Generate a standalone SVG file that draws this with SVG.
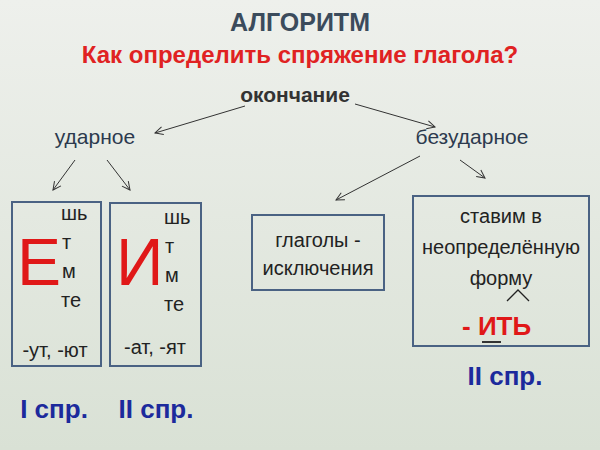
<svg xmlns="http://www.w3.org/2000/svg" width="600" height="450" viewBox="0 0 600 450">
<defs>
<linearGradient id="bg" x1="0" y1="0" x2="0" y2="1"><stop offset="0" stop-color="#eef0ec"/><stop offset="1" stop-color="#d9e1d5"/></linearGradient>
<marker id="ah" markerWidth="10" markerHeight="10" refX="9" refY="5" orient="auto" markerUnits="userSpaceOnUse"><path d="M1,1 L9,5 L1,9" fill="none" stroke="#333" stroke-width="1"/></marker>
<style>
text{font-family:"Liberation Sans",Arial,sans-serif}
.box{fill:none;stroke:#4a6283;stroke-width:2}
.n{font-size:20px;fill:#222}
.h{font-size:21px;fill:#2c3a4e}
.s{font-size:26px;font-weight:bold;fill:#1c2a9c}
.big{font-size:66px;fill:#e01818}
.c line{stroke:#333;stroke-width:1;marker-end:url(#ah)}
</style>
</defs>
<rect width="600" height="450" fill="url(#bg)"/>
<text x="300" y="31" text-anchor="middle" font-size="25" font-weight="bold" fill="#3b4b5c">АЛГОРИТМ</text>
<text x="300" y="63" text-anchor="middle" font-size="24" font-weight="bold" fill="#e02222">Как определить спряжение глагола?</text>
<g id="okonchanie"><text x="295" y="102" text-anchor="middle" font-size="21" font-weight="bold" fill="#333">окончание</text></g>
<g id="udarnoe"><text x="95" y="144" text-anchor="middle" class="h">ударное</text></g>
<g id="bezudarnoe"><text x="472" y="144" text-anchor="middle" class="h">безударное</text></g>
<g class="c" id="connectors">
<line x1="245" y1="106" x2="155" y2="133"/>
<line x1="355" y1="104" x2="435" y2="127"/>
<line x1="75" y1="160" x2="53" y2="190"/>
<line x1="107" y1="160" x2="130" y2="190"/>
<line x1="420" y1="156" x2="336" y2="200"/>
<line x1="460" y1="160" x2="485" y2="178"/>
</g>
<g id="boxE"><rect class="box" x="12" y="202" width="89" height="164"/>
<text x="17" y="285" class="big">Е</text>
<text x="61" y="220" class="n">шь</text><text x="62" y="249" class="n">т</text><text x="62" y="278" class="n">м</text><text x="61" y="307" class="n">те</text>
<text x="55" y="357" text-anchor="middle" class="n" font-size="22">-ут, -ют</text></g>
<g id="boxI"><rect class="box" x="110" y="203" width="91" height="163"/>
<text x="116" y="285" class="big">И</text>
<text x="164" y="224" class="n">шь</text><text x="165" y="253" class="n">т</text><text x="165" y="282" class="n">м</text><text x="164" y="311" class="n">те</text>
<text x="155" y="354" text-anchor="middle" class="n" font-size="22">-ат, -ят</text></g>
<g id="boxExc"><rect class="box" x="252" y="215" width="132" height="75"/>
<text x="318" y="247" text-anchor="middle" class="n">глаголы -</text>
<text x="318" y="275" text-anchor="middle" class="n">исключения</text></g>
<g id="boxInf"><rect class="box" x="413" y="196" width="176" height="150"/>
<text x="501" y="223" text-anchor="middle" class="n">ставим в</text>
<text x="501" y="254" text-anchor="middle" class="n">неопределённую</text>
<text x="501" y="285" text-anchor="middle" class="n">форму</text>
<path d="M507,301 L518,290 L529,301" fill="none" stroke="#222" stroke-width="1.3"/>
<text x="462" y="335" font-size="26" font-weight="bold" fill="#e01818">- ИТЬ</text>
<line x1="482" y1="342" x2="501" y2="342" stroke="#333" stroke-width="2"/></g>
<g id="labels">
<text x="54" y="418" text-anchor="middle" class="s">I спр.</text>
<text x="156" y="418" text-anchor="middle" class="s">II спр.</text>
<text x="505" y="385" text-anchor="middle" class="s">II спр.</text></g>
</svg>
